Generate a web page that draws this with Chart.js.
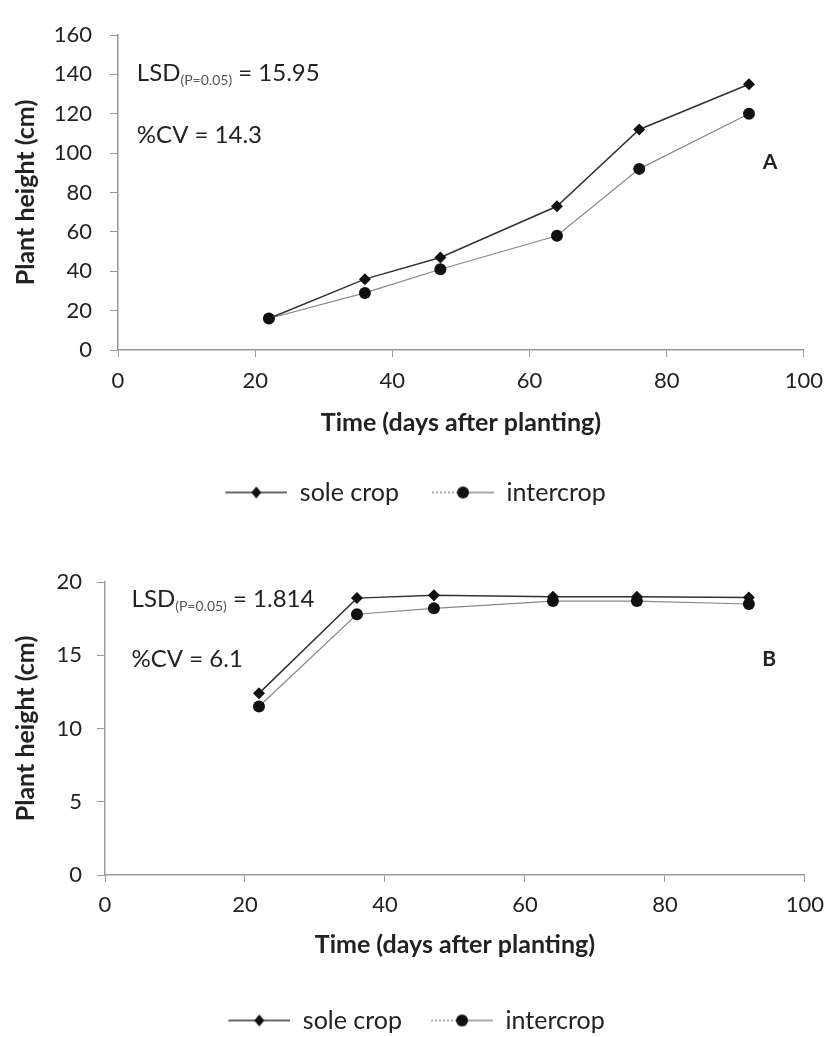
<!DOCTYPE html>
<html>
<head>
<meta charset="utf-8">
<script src="https://cdn.jsdelivr.net/npm/chart.js@4"></script>
<style>
  body { margin: 0; background: #fff; width: 834px; height: 1037px; position: relative; overflow: hidden; }
  .box { position: absolute; left: 0; width: 834px; }
</style>
</head>
<body>
<div class="box" style="top:0;height:530px"><canvas id="chartA"></canvas></div>
<div class="box" style="top:531px;height:515px"><canvas id="chartB"></canvas></div>
<script>
// days after planting
const days = [22, 36, 47, 64, 76, 92];

// panel A plant height (cm)
const soleA = [16, 36, 47, 73, 112, 135];
const interA = [16, 29, 41, 58, 92, 120];

// panel B plant height (cm)
const soleB = [12.4, 18.9, 19.1, 19.0, 19.0, 18.95];
const interB = [11.5, 17.8, 18.2, 18.7, 18.7, 18.5];

const seriesNames = ['sole crop', 'intercrop'];
const xTitle = 'Time (days after planting)';
const yTitle = 'Plant height (cm)';

const FONT = 'Lato, "Open Sans", sans-serif';
const TEXT = '#222';
const AXIS = '#999';

// legend icons: line with the marker in the middle (blank space on the left keeps items apart)
function legendIcon(kind) {
  const c = document.createElement('canvas');
  c.width = 85; c.height = 16;
  const g = c.getContext('2d');
  const x0 = 23, mid = 54;
  g.lineWidth = 1.5;
  if (kind === 'sole') {
    g.strokeStyle = '#333';
    g.beginPath(); g.moveTo(x0, 8); g.lineTo(85, 8); g.stroke();
    g.fillStyle = '#111';
    g.beginPath(); g.moveTo(mid, 2); g.lineTo(mid + 5, 8); g.lineTo(mid, 14); g.lineTo(mid - 5, 8); g.closePath(); g.fill();
  } else {
    g.strokeStyle = '#888';
    g.setLineDash([2, 2]);
    g.beginPath(); g.moveTo(x0, 8); g.lineTo(mid - 6, 8); g.stroke();
    g.setLineDash([]);
    g.beginPath(); g.moveTo(mid + 6, 8); g.lineTo(85, 8); g.stroke();
    g.fillStyle = '#111';
    g.beginPath(); g.arc(mid, 8, 6, 0, Math.PI * 2); g.fill();
  }
  return c;
}

// draws the LSD / CV notes and panel letter at data positions
const notesPlugin = {
  id: 'notes',
  afterDatasetsDraw(chart, args, opts) {
    const ctx = chart.ctx;
    const xs = chart.scales.x, ys = chart.scales.y;
    ctx.save();
    ctx.textBaseline = 'middle';
    ctx.textAlign = 'left';
    (opts.items || []).forEach(item => {
      let px = xs.getPixelForValue(item.x);
      const py = ys.getPixelForValue(item.y);
      item.parts.forEach(p => {
        ctx.font = (p.bold ? 'bold ' : '') + p.size + 'px ' + FONT;
        ctx.fillStyle = p.color || TEXT;
        ctx.fillText(p.text, px, py + (p.dy || 0));
        px += ctx.measureText(p.text).width;
      });
    });
    ctx.restore();
  }
};

function makeChart(id, sole, inter, yMax, yStep, cfg) {
  const icons = [legendIcon('sole'), legendIcon('inter')];
  return new Chart(document.getElementById(id), {
    type: 'line',
    data: {
      datasets: [
        {
          label: seriesNames[0],
          data: days.map((d, i) => ({ x: d, y: sole[i] })),
          borderColor: '#333', borderWidth: 1.5,
          pointStyle: 'rectRot', pointRadius: 6,
          pointBackgroundColor: '#111', pointBorderColor: '#111', pointBorderWidth: 0
        },
        {
          label: seriesNames[1],
          data: days.map((d, i) => ({ x: d, y: inter[i] })),
          borderColor: '#888', borderWidth: 1.2,
          pointStyle: 'circle', pointRadius: 6,
          pointBackgroundColor: '#111', pointBorderColor: '#111', pointBorderWidth: 0
        }
      ]
    },
    options: {
      responsive: true,
      maintainAspectRatio: false,
      animation: false,
      layout: { padding: { top: cfg.top, right: cfg.right, bottom: cfg.bottom, left: 0 } },
      plugins: {
        tooltip: { enabled: false },
        legend: {
          position: 'bottom',
          labels: {
            usePointStyle: true,
            pointStyleWidth: 85,
            padding: cfg.legendPad,
            color: TEXT,
            font: { family: FONT, size: 25, lineHeight: 1 },
            generateLabels: () => seriesNames.map((n, i) => ({
              text: n, pointStyle: icons[i], datasetIndex: i,
              fillStyle: '#000', strokeStyle: '#000', lineWidth: 0, fontColor: TEXT
            }))
          }
        },
        notes: { items: cfg.notes }
      },
      scales: {
        x: {
          type: 'linear', min: 0, max: 100,
          ticks: { stepSize: 20, color: TEXT, padding: cfg.xTickPad, font: { family: FONT, size: 22 } },
          grid: { drawOnChartArea: false, drawTicks: true, tickLength: 7, color: AXIS },
          border: { color: AXIS, width: 1.5 },
          title: { display: true, text: xTitle, color: TEXT, font: { family: FONT, size: 25, weight: 'bold' }, padding: { top: 0, bottom: cfg.xTitlePad } },
          afterFit: s => { s.height = cfg.xHeight; }
        },
        y: {
          min: 0, max: yMax,
          ticks: { stepSize: yStep, color: TEXT, padding: cfg.yTickPad, font: { family: FONT, size: 22 } },
          grid: { drawOnChartArea: false, drawTicks: true, tickLength: 8, color: AXIS },
          border: { color: AXIS, width: 1.5 },
          title: { display: true, text: yTitle, color: TEXT, font: { family: FONT, size: 25, weight: 'bold' }, padding: { top: 11, bottom: 0 } },
          afterFit: s => { s.width = cfg.yWidth; }
        }
      }
    },
    plugins: [notesPlugin]
  });
}

makeChart('chartA', soleA, interA, 160, 20, {
  top: 35, right: 26, bottom: 15, legendPad: 10,
  xHeight: 120, xTickPad: 11, xTitlePad: 32, yWidth: 118, yTickPad: 18,
  notes: [
    { x: 2.75, y: 140.5, parts: [
      { text: 'LSD', size: 24 },
      { text: '(P=0.05)', size: 14, dy: 7, color: '#555' },
      { text: ' = 15.95', size: 24 }
    ] },
    { x: 2.75, y: 109, parts: [{ text: '%CV = 14.3', size: 24 }] },
    { x: 94, y: 95.5, parts: [{ text: 'A', size: 21, bold: true }] }
  ]
});

makeChart('chartB', soleB, interB, 20, 5, {
  top: 51, right: 24, bottom: 3, legendPad: 6,
  xHeight: 127, xTickPad: 10, xTitlePad: 42, yWidth: 105, yTickPad: 15,
  notes: [
    { x: 3.8, y: 18.8, parts: [
      { text: 'LSD', size: 24 },
      { text: '(P=0.05)', size: 14, dy: 7, color: '#555' },
      { text: ' = 1.814', size: 24 }
    ] },
    { x: 3.8, y: 14.7, parts: [{ text: '%CV = 6.1', size: 24 }] },
    { x: 93.9, y: 14.75, parts: [{ text: 'B', size: 21, bold: true }] }
  ]
});
</script>
</body>
</html>
